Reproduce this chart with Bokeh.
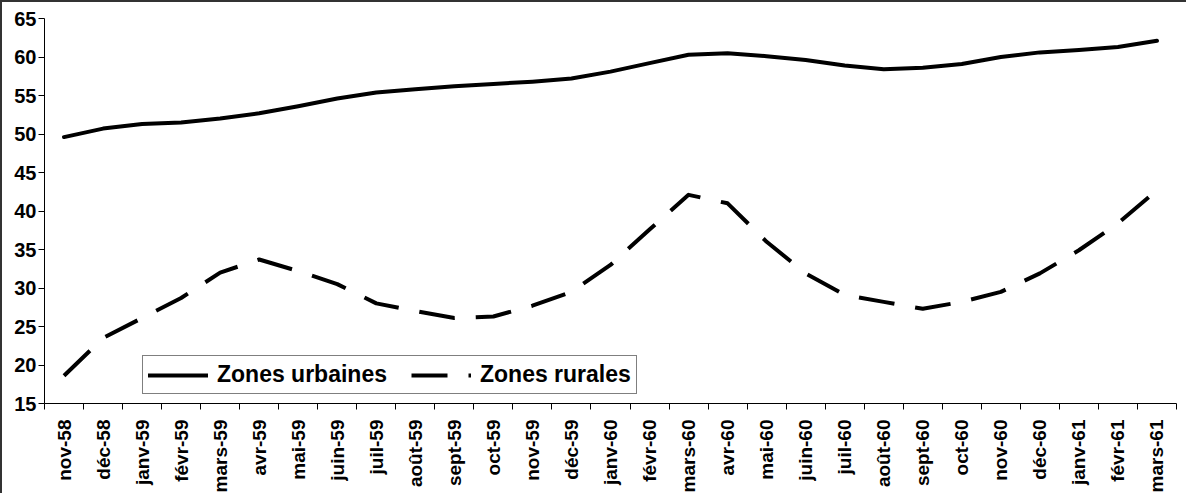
from bokeh.plotting import figure
from bokeh.models import Range1d, FixedTicker, Legend, LegendItem
from bokeh.embed import file_html
from bokeh.resources import INLINE

months = ["nov-58", "déc-58", "janv-59", "févr-59", "mars-59", "avr-59", "mai-59", "juin-59",
          "juil-59", "août-59", "sept-59", "oct-59", "nov-59", "déc-59", "janv-60", "févr-60",
          "mars-60", "avr-60", "mai-60", "juin-60", "juil-60", "août-60", "sept-60", "oct-60",
          "nov-60", "déc-60", "janv-61", "févr-61", "mars-61"]

urbaines = [49.6, 50.7, 51.3, 51.5, 52.0, 52.7, 53.6, 54.6, 55.4, 55.8, 56.2, 56.5, 56.8, 57.2,
            58.1, 59.2, 60.3, 60.5, 60.1, 59.6, 58.9, 58.4, 58.6, 59.1, 60.0, 60.6, 60.9, 61.3, 62.1]

rurales = [18.6, 23.5, 26.1, 28.7, 32.0, 33.7, 32.2, 30.5, 28.0, 27.0, 26.1, 26.3, 27.7, 29.5,
           33.0, 37.6, 42.1, 41.0, 36.0, 31.9, 29.1, 28.2, 27.3, 28.2, 29.5, 31.9, 34.9, 38.4, 42.7]

y_ticks = [15, 20, 25, 30, 35, 40, 45, 50, 55, 60, 65]

n = len(months)
xs = [2 * i + 1 for i in range(n)]

FONT = "Liberation Sans"

p = figure(width=1186, height=493, output_backend="svg", toolbar_location=None,
           x_range=Range1d(0, 2 * n), y_range=Range1d(15, 65),
           min_border_left=42, min_border_right=12, min_border_top=16, min_border_bottom=92)
p.styles = {"border-top": "2px solid #333333", "border-left": "2px solid #333333",
            "box-sizing": "border-box"}

p.outline_line_color = None
p.xgrid.visible = False
p.ygrid.visible = False
p.background_fill_color = "white"
p.border_fill_color = "white"

r_u = p.line(xs, urbaines, line_color="black", line_width=4, line_join="round", line_cap="round")
r_r = p.line(xs, rurales, line_color="black", line_width=4, line_dash="36 21", line_join="round")

# x axis
xa = p.xaxis[0]
xa.ticker = FixedTicker(ticks=xs, minor_ticks=[2 * i for i in range(n + 1)])
xa.major_label_overrides = {x: m for x, m in zip(xs, months)}
xa.major_label_orientation = 3.14159265 / 2
xa.major_tick_out = 0
xa.major_tick_in = 0
xa.minor_tick_out = 6
xa.minor_tick_in = 0
xa.minor_tick_line_color = "black"
xa.axis_line_color = "black"
xa.major_label_text_font = FONT
xa.major_label_text_font_style = "bold"
xa.major_label_text_font_size = "19px"
xa.major_label_text_color = "black"
xa.major_label_standoff = 10

# y axis
ya = p.yaxis[0]
ya.ticker = FixedTicker(ticks=y_ticks)
ya.major_tick_out = 6
ya.major_tick_in = 0
ya.minor_tick_line_color = None
ya.axis_line_color = "black"
ya.major_tick_line_color = "black"
ya.major_label_text_font = FONT
ya.major_label_text_font_style = "bold"
ya.major_label_text_font_size = "20px"
ya.major_label_text_color = "black"
ya.major_label_standoff = 2

legend = Legend(items=[LegendItem(label="Zones urbaines", renderers=[r_u]),
                       LegendItem(label="Zones rurales", renderers=[r_r])],
                location=(98, 9), orientation="horizontal",
                border_line_color="black", border_line_width=1,
                padding=5, spacing=24, label_standoff=9, margin=0,
                glyph_width=60, glyph_height=20,
                label_text_font=FONT, label_text_font_style="bold",
                label_text_font_size="23px", label_text_color="black",
                background_fill_alpha=1.0)
p.add_layout(legend, "center")

open("out.html", "w").write(file_html(p, INLINE))
